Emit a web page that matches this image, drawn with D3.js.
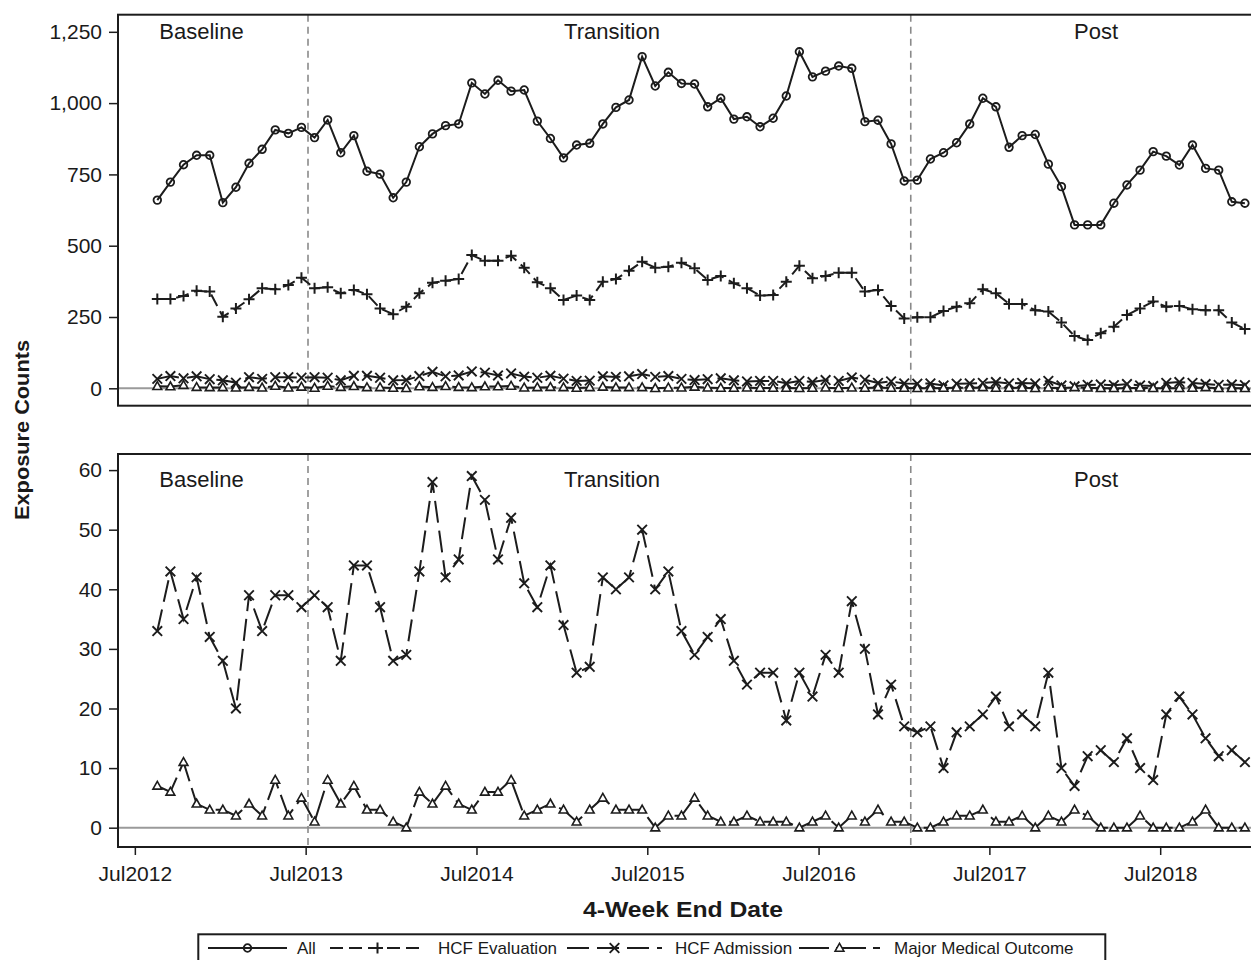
<!DOCTYPE html>
<html>
<head>
<meta charset="utf-8">
<script src="https://cdn.jsdelivr.net/npm/d3@7"></script>
<style>
  html, body { margin: 0; padding: 0; background: #fff; }
  svg { display: block; }
  text { font-family: "Liberation Sans", Arial, sans-serif; fill: #1a1a1a; }
</style>
</head>
<body>
<svg id="chart" width="1251" height="960"></svg>
<script>
// ---------------- data ----------------
const startDate = "2012-08-18";      // first 4-week end date
const stepDays = 28;
const seriesNames = ["All", "HCF Evaluation", "HCF Admission", "Major Medical Outcome"];
const allCounts = [660,723,784,817,817,651,705,789,838,906,
  894,915,879,941,826,886,761,751,668,723,
  847,892,921,927,1071,1032,1080,1042,1046,937,
  876,808,853,859,927,985,1011,1163,1060,1108,
  1069,1067,987,1017,944,952,917,947,1025,1180,
  1092,1112,1130,1122,935,940,857,727,730,804,
  826,861,927,1017,987,845,886,890,786,707,
  573,573,573,649,713,765,830,814,783,853,
  771,765,654,649];
const hcfEvaluation = [313,313,324,342,339,251,280,312,351,347,
  362,388,351,354,333,345,330,280,260,286,
  333,370,377,383,467,447,447,465,423,372,
  351,310,325,310,374,383,412,444,423,426,
  440,421,380,394,368,351,325,327,374,430,
  386,394,405,405,339,345,289,245,249,249,
  271,286,298,347,333,296,296,274,269,231,
  183,169,193,216,257,280,304,286,289,277,
  274,274,231,208];
const hcfAdmission = [33,43,35,42,32,28,20,39,33,39,
  39,37,39,37,28,44,44,37,28,29,
  43,58,42,45,59,55,45,52,41,37,
  44,34,26,27,42,40,42,50,40,43,
  33,29,32,35,28,24,26,26,18,26,
  22,29,26,38,30,19,24,17,16,17,
  10,16,17,19,22,17,19,17,26,10,
  7,12,13,11,15,10,8,19,22,19,
  15,12,13,11];
const majorMedical = [7,6,11,4,3,3,2,4,2,8,
  2,5,1,8,4,7,3,3,1,0,
  6,4,7,4,3,6,6,8,2,3,
  4,3,1,3,5,3,3,3,0,2,
  2,5,2,1,1,2,1,1,1,0,
  1,2,0,2,1,3,1,1,0,0,
  1,2,2,3,1,1,2,0,2,1,
  3,2,0,0,0,2,0,0,0,1,
  3,0,0,0];
const phaseNames = ["Baseline", "Transition", "Post"];
const phaseBoundaries = ["2013-07-06", "2017-01-14"];
const xDomain = ["2012-05-26", "2019-01-26"];
const xTickDates = ["2012-07-01","2013-07-01","2014-07-01","2015-07-01","2016-07-01","2017-07-01","2018-07-01"];
const topTicks = [0, 250, 500, 750, 1000, 1250];
const topDomain = [-61, 1310];
const bottomTicks = [0, 10, 20, 30, 40, 50, 60];
const bottomDomain = [-3.24, 62.7];

// ---------------- layout ----------------
const svg = d3.select("#chart");
const left = 118, right = 1258;
const topPanel = { y0: 14.7, y1: 405.7 };
const botPanel = { y0: 454, y1: 847 };
const ink = "#1c1c1c";

const parse = d3.utcParse("%Y-%m-%d");
const d0 = parse(startDate);
const dates = allCounts.map((_, i) => d3.utcDay.offset(d0, i * stepDays));

const x = d3.scaleUtc().domain(xDomain.map(parse)).range([left, right]);
const yTop = d3.scaleLinear().domain(topDomain).range([topPanel.y1, topPanel.y0]);
const yBot = d3.scaleLinear().domain(bottomDomain).range([botPanel.y1, botPanel.y0]);

// marker shapes
const markers = {
  circle: g => g.append("circle").attr("r", 3.8).attr("fill", "none").attr("stroke", ink).attr("stroke-width", 1.8),
  plus: g => g.append("path").attr("d", "M-5.5,0H5.5M0,-5.5V5.5").attr("stroke", ink).attr("stroke-width", 2).attr("fill", "none"),
  cross: g => g.append("path").attr("d", "M-4.8,-4.8L4.8,4.8M-4.8,4.8L4.8,-4.8").attr("stroke", ink).attr("stroke-width", 1.9).attr("fill", "none"),
  tri: g => g.append("path").attr("d", "M0,-4.6L4.4,3.2H-4.4Z").attr("stroke", ink).attr("stroke-width", 1.6).attr("fill", "#fff")
};

const seriesDefs = [
  { name: seriesNames[0], values: allCounts, marker: "circle", dash: null, width: 2 },
  { name: seriesNames[1], values: hcfEvaluation, marker: "plus", dash: "13,6", width: 2 },
  { name: seriesNames[2], values: hcfAdmission, marker: "cross", dash: "22,8", width: 2 },
  { name: seriesNames[3], values: majorMedical, marker: "tri", dash: "30,7", width: 2 }
];

function drawPanel(panel, y, ticks, tickFmt, series, labelBaseline) {
  const g = svg.append("g");
  const clipId = "clip" + Math.round(panel.y0);
  svg.append("clipPath").attr("id", clipId).append("rect")
    .attr("x", left).attr("y", panel.y0).attr("width", right - left).attr("height", panel.y1 - panel.y0);

  // zero reference line
  g.append("line").attr("x1", left).attr("x2", right).attr("y1", y(0)).attr("y2", y(0))
    .attr("stroke", "#9a9a9a").attr("stroke-width", 2);

  // phase boundary lines
  phaseBoundaries.forEach(d => {
    g.append("line").attr("x1", x(parse(d))).attr("x2", x(parse(d)))
      .attr("y1", panel.y0).attr("y2", panel.y1)
      .attr("stroke", "#8a8a8a").attr("stroke-width", 1.6).attr("stroke-dasharray", "7,5");
  });

  // phase labels
  g.append("text").attr("x", 159.3).attr("y", labelBaseline).attr("font-size", 22).text(phaseNames[0]);
  g.append("text").attr("x", 612).attr("y", labelBaseline).attr("font-size", 22).attr("text-anchor", "middle").text(phaseNames[1]);
  g.append("text").attr("x", 1096).attr("y", labelBaseline).attr("font-size", 22).attr("text-anchor", "middle").text(phaseNames[2]);

  // series
  const plot = g.append("g").attr("clip-path", `url(#${clipId})`);
  series.forEach(s => {
    const line = d3.line().x((d, i) => x(dates[i])).y(d => y(d));
    plot.append("path").datum(s.values).attr("d", line)
      .attr("fill", "none").attr("stroke", ink).attr("stroke-width", s.width)
      .attr("stroke-dasharray", s.dash);
    s.values.forEach((v, i) => {
      const m = plot.append("g").attr("transform", `translate(${x(dates[i])},${y(v)})`);
      markers[s.marker](m);
    });
  });

  // y axis
  const ax = g.append("g").attr("transform", `translate(${left},0)`)
    .call(d3.axisLeft(y).tickValues(ticks).tickFormat(tickFmt).tickSize(9).tickPadding(7));
  ax.select(".domain").remove();
  ax.selectAll(".tick line").attr("stroke", ink).attr("stroke-width", 1.5);
  ax.selectAll(".tick text").attr("font-size", 21).attr("font-family", "Liberation Sans, Arial, sans-serif").attr("fill", ink);

  // frame (right side lies outside the picture)
  g.append("rect").attr("x", left).attr("y", panel.y0).attr("width", right - left).attr("height", panel.y1 - panel.y0)
    .attr("fill", "none").attr("stroke", ink).attr("stroke-width", 2);
  return g;
}

drawPanel(topPanel, yTop, topTicks, d3.format(","), seriesDefs, 39.3);
drawPanel(botPanel, yBot, bottomTicks, d3.format("d"), seriesDefs.slice(2), 486.7);

// x axis (bottom panel)
const xa = svg.append("g").attr("transform", `translate(0,${botPanel.y1})`)
  .call(d3.axisBottom(x).tickValues(xTickDates.map(parse)).tickFormat(d3.utcFormat("%b%Y")).tickSize(8).tickPadding(11));
xa.select(".domain").remove();
xa.selectAll(".tick line").attr("stroke", ink).attr("stroke-width", 1.5);
xa.selectAll(".tick text").attr("font-size", 21).attr("font-family", "Liberation Sans, Arial, sans-serif").attr("fill", ink);

// axis titles
svg.append("text").attr("transform", "translate(29,430) rotate(-90)")
  .attr("text-anchor", "middle").attr("font-weight", "bold").attr("font-size", 21)
  .attr("textLength", 180).attr("lengthAdjust", "spacingAndGlyphs").text("Exposure Counts");
svg.append("text").attr("x", 683).attr("y", 917).attr("text-anchor", "middle")
  .attr("font-weight", "bold").attr("font-size", 22)
  .attr("textLength", 200).attr("lengthAdjust", "spacingAndGlyphs").text("4-Week End Date");

// legend
const lg = svg.append("g");
lg.append("rect").attr("x", 198.3).attr("y", 934.3).attr("width", 907).attr("height", 40)
  .attr("fill", "none").attr("stroke", ink).attr("stroke-width", 2);
const legendLines = [[208, 287], [330, 425], [567, 662], [799, 880]];
const legendText = [297, 438, 675, 894];
const ly = 948;
seriesDefs.forEach((s, i) => {
  const [a, b] = legendLines[i];
  lg.append("line").attr("x1", a).attr("x2", b).attr("y1", ly).attr("y2", ly)
    .attr("stroke", ink).attr("stroke-width", s.width).attr("stroke-dasharray", s.dash);
  const m = lg.append("g").attr("transform", `translate(${(a + b) / 2},${ly})`);
  markers[s.marker](m);
  lg.append("text").attr("x", legendText[i]).attr("y", ly + 6).attr("font-size", 17).text(s.name);
});
</script>
</body>
</html>
